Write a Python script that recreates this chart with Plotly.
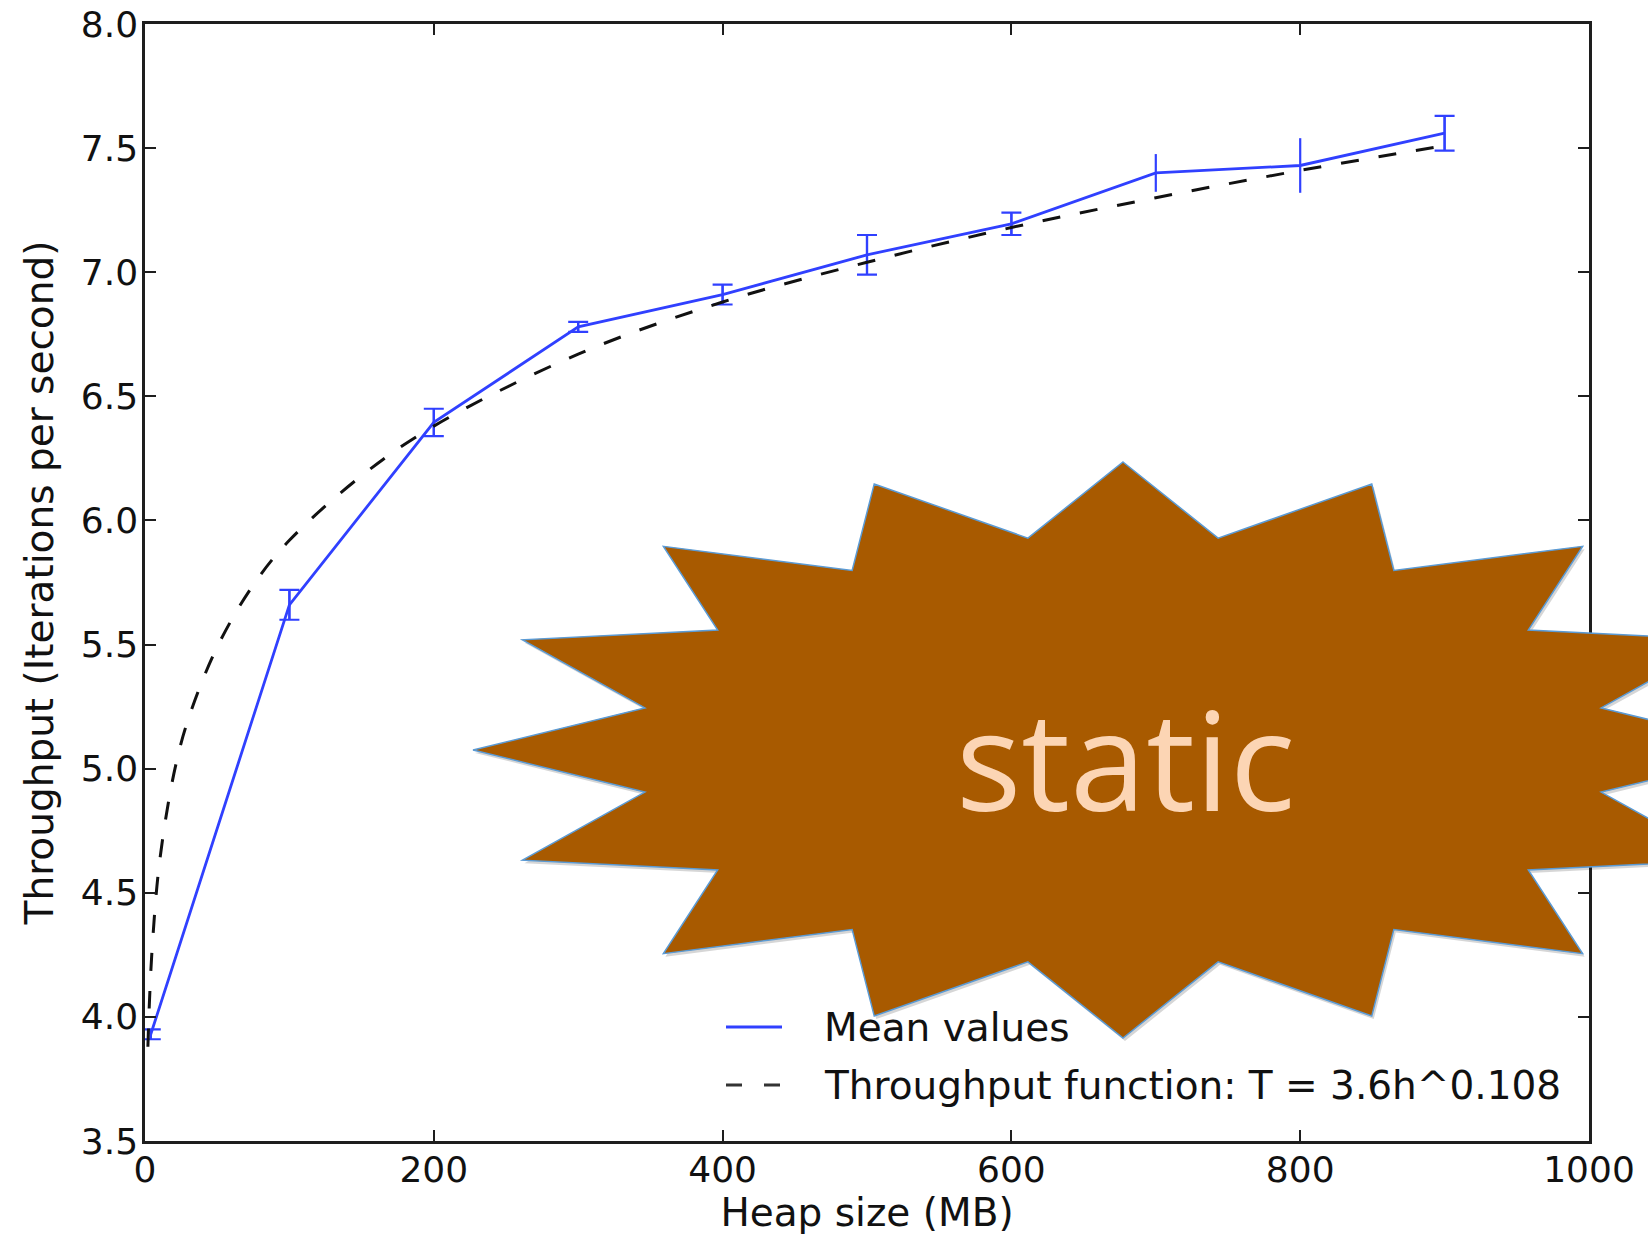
import math
import plotly.graph_objects as go

# ---------------- data ----------------
heap_mb = [4, 100, 200, 300, 400, 500, 600, 700, 800, 900]
mean_throughput = [3.93, 5.66, 6.395, 6.78, 6.91, 7.07, 7.195, 7.40, 7.43, 7.56]
throughput_err = [0.02, 0.06, 0.055, 0.02, 0.04, 0.08, 0.045, 0.076, 0.11, 0.07]
cap_visible = [True, True, True, True, True, True, True, False, False, True]

fit_heap_mb = [2, 3, 5, 10, 20, 30, 50, 75, 100, 150, 200, 300, 400, 500, 600, 700, 800, 900]
fit_throughput = [3.88, 4.05, 4.28, 4.62, 4.98, 5.20, 5.49, 5.74, 5.92, 6.18, 6.38,
                  6.67, 6.88, 7.04, 7.18, 7.30, 7.41, 7.51]

x_tick_vals = [0, 200, 400, 600, 800, 1000]
x_tick_text = ["0", "200", "400", "600", "800", "1000"]
y_tick_vals = [3.5, 4.0, 4.5, 5.0, 5.5, 6.0, 6.5, 7.0, 7.5, 8.0]
y_tick_text = ["3.5", "4.0", "4.5", "5.0", "5.5", "6.0", "6.5", "7.0", "7.5", "8.0"]

series_names = ["Mean values", "Throughput function: T = 3.6h^0.108"]
x_title = "Heap size (MB)"
y_title = "Throughput (Iterations per second)"
overlay_text = "static"

# ---------------- styling / layout constants ----------------
W, H = 1648, 1237
M_L, M_R, M_T, M_B = 145, 59, 24, 96
PLOT_W = W - M_L - M_R
PLOT_H = H - M_T - M_B

BLUE = "rgb(48,64,255)"
BLACK = "#111111"
AXIS = "#1e1e1e"
FONT = "DejaVu Sans"
FIT_DASH = "18px,20px"


def to_paper(px, py):
    return (px - M_L) / PLOT_W, (H - M_B - py) / PLOT_H


fig = go.Figure()

# mean values line with error bars (no caps)
fig.add_trace(go.Scatter(
    x=heap_mb, y=mean_throughput, mode="lines", name=series_names[0],
    showlegend=False,
    line=dict(color=BLUE, width=2.8),
    error_y=dict(type="data", array=throughput_err, color=BLUE, thickness=2.2, width=0),
))
# caps for the error bars where they are visible
fig.add_trace(go.Scatter(
    x=[h for h, c in zip(heap_mb, cap_visible) if c],
    y=[m for m, c in zip(mean_throughput, cap_visible) if c],
    mode="markers", showlegend=False, hoverinfo="skip",
    marker=dict(size=1, color="rgba(0,0,0,0)"),
    error_y=dict(type="data", array=[e for e, c in zip(throughput_err, cap_visible) if c],
                 color=BLUE, thickness=2.2, width=10),
))
# fitted throughput function (dashed)
fig.add_trace(go.Scatter(
    x=fit_heap_mb, y=fit_throughput, mode="lines", name=series_names[1],
    showlegend=False, line_shape="spline",
    line=dict(color=BLACK, width=3, dash=FIT_DASH),
))

# ---------------- legend (matplotlib style, no frame) ----------------
LEG_X0, LEG_X1, LEG_TEXT_X = 726, 782, 823
LEG_ROWS_Y = [1027, 1085]
legend_styles = [dict(color=BLUE, width=3), dict(color="#333333", width=3, dash="16px,22px")]
for name, row_y, style in zip(series_names, LEG_ROWS_Y, legend_styles):
    x0, y0 = to_paper(LEG_X0, row_y)
    x1, _ = to_paper(LEG_X1, row_y)
    fig.add_shape(type="line", xref="paper", yref="paper", x0=x0, x1=x1, y0=y0, y1=y0,
                  line=style, layer="above")
    tx, ty = to_paper(LEG_TEXT_X, row_y)
    fig.add_annotation(x=tx, y=ty, xref="paper", yref="paper", text=name, showarrow=False,
                       xanchor="left", yanchor="middle", borderpad=0,
                       font=dict(family=FONT, size=39, color=BLACK))

# ---------------- 16-point starburst overlay ----------------
STAR_POINTS = 16
star_cx, star_cy = 1123, 750      # pixel centre
star_rx, star_ry = 650, 288       # pixel radii
star_inner = 0.75


def star_path(dx=0.0, dy=0.0):
    pts = []
    for k in range(STAR_POINTS * 2):
        a = k * math.pi / STAR_POINTS
        r = 1.0 if k % 2 == 0 else star_inner
        px = star_cx + dx + r * star_rx * math.sin(a)
        py = star_cy + dy - r * star_ry * math.cos(a)
        xp, yp = to_paper(px, py)
        pts.append(f"{xp:.5f},{yp:.5f}")
    return "M" + " L".join(pts) + " Z"


fig.add_shape(type="path", path=star_path(2, 3), xref="paper", yref="paper",
              fillcolor="rgba(0,0,0,0.16)", line=dict(width=0), layer="above")
fig.add_shape(type="path", path=star_path(), xref="paper", yref="paper",
              fillcolor="#A85A00", line=dict(color="#5B9BD5", width=1.5), layer="above")

tx, ty = to_paper(1125, 758)
fig.add_annotation(x=tx, y=ty, xref="paper", yref="paper", text=overlay_text,
                   showarrow=False, xanchor="center", yanchor="middle",
                   font=dict(family="Open Sans", size=137, color="#FCD5B4"))

# ---------------- axes ----------------
common_axis = dict(
    showgrid=False, zeroline=False, showline=True, linewidth=2.5, linecolor=AXIS,
    mirror="ticks", ticks="inside", ticklen=11, tickwidth=1.5, tickcolor=AXIS,
    tickfont=dict(family=FONT, size=36, color=BLACK),
)
fig.update_xaxes(range=[0, 1000], tickvals=x_tick_vals, ticktext=x_tick_text,
                 ticklabelstandoff=-5,
                 title=dict(text=x_title, font=dict(family=FONT, size=39, color=BLACK),
                            standoff=3),
                 **common_axis)
fig.update_yaxes(range=[3.5, 8.0], tickvals=y_tick_vals, ticktext=y_tick_text,
                 ticklabelstandoff=-3,
                 title=dict(text=y_title, font=dict(family=FONT, size=39, color=BLACK),
                            standoff=16),
                 **common_axis)

fig.update_layout(
    width=W, height=H,
    margin=dict(l=M_L, r=M_R, t=M_T, b=M_B, autoexpand=False),
    plot_bgcolor="white", paper_bgcolor="white",
    font=dict(family=FONT, size=36, color=BLACK),
    showlegend=False,
)

fig.write_html("out.html", config={"displayModeBar": False},
               post_script="document.body.style.margin='0px';")
